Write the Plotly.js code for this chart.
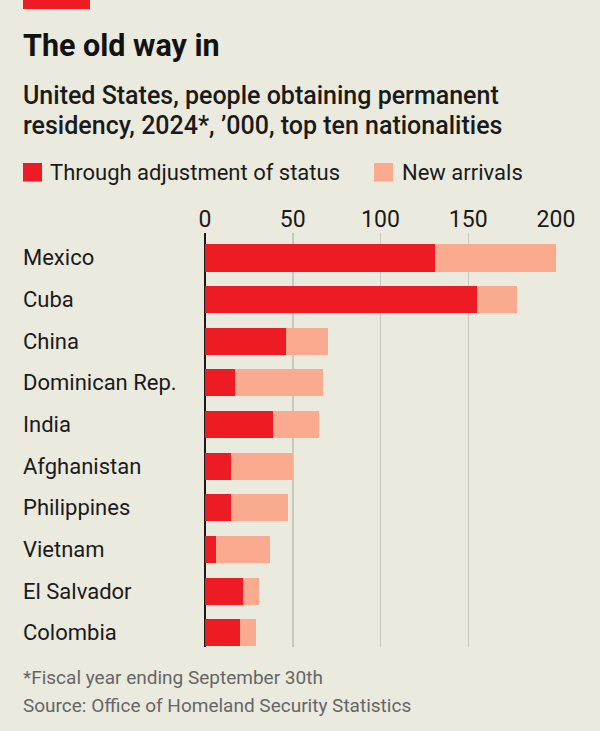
<!DOCTYPE html>
<html>
<head>
<meta charset="utf-8">
<script src="https://cdn.plot.ly/plotly-3.0.1.min.js"></script>
<style>
  html, body { margin: 0; padding: 0; background: #EBEADF; }
  #chart { width: 600px; height: 731px; }
</style>
</head>
<body>
<div id="chart"></div>
<script>
// Top ten nationalities obtaining permanent residency, 2024 ('000)
const countries = ["Mexico", "Cuba", "China", "Dominican Rep.", "India",
                   "Afghanistan", "Philippines", "Vietnam", "El Salvador", "Colombia"];
const adjustmentOfStatus = [131, 155, 46, 17, 39, 15, 15, 6, 21.5, 20];
const newArrivals        = [69, 23, 24, 50.5, 26, 35, 32.5, 31, 9, 9];
const xTicks = [0, 50, 100, 150, 200];

const W = 600, H = 731;
const M = { l: 205, r: 44, t: 233, b: 84 };
const plotW = W - M.l - M.r, plotH = H - M.t - M.b;
// pixel -> paper coordinate helpers for the header/footer furniture
const px = x => (x - M.l) / plotW;
const py = y => (H - M.b - y) / plotH;

const RED = "#ED1C24", PINK = "#F9AA8F", BG = "#EBEADF";
const FONT = "Roboto, 'Noto Sans', sans-serif";

const traces = [
  { type: "bar", orientation: "h", name: "Through adjustment of status",
    y: countries, x: adjustmentOfStatus, marker: { color: RED },
    hoverinfo: "skip" },
  { type: "bar", orientation: "h", name: "New arrivals",
    y: countries, x: newArrivals, marker: { color: PINK },
    hoverinfo: "skip" }
];

const annotations = [];
const txt = (text, x, y, size, color, extra) => Object.assign({
  text, xref: "paper", yref: "paper", x: px(x), y: py(y),
  xanchor: "left", yanchor: "middle", showarrow: false,
  font: { family: FONT, size, color }
}, extra || {});

annotations.push(txt("<b>The old way in</b>", 21, 45, 30.5, "#121212"));
annotations.push(txt("United States, people obtaining permanent", 21, 95, 25, "#1a1a1a",
  { font: { family: FONT, size: 25, color: "#1a1a1a", weight: 500 } }));
annotations.push(txt("residency, 2024*, ’000, top ten nationalities", 21, 126, 25, "#1a1a1a",
  { font: { family: FONT, size: 25, color: "#1a1a1a", weight: 500 } }));
annotations.push(txt("Through adjustment of status", 48, 172, 22, "#1a1a1a"));
annotations.push(txt("New arrivals", 400, 172, 22, "#1a1a1a"));
annotations.push(txt("*Fiscal year ending September 30th", 21, 677, 19, "#666666"));
annotations.push(txt("Source: Office of Homeland Security Statistics", 21, 705, 19, "#666666"));

// category names, left-aligned against the page margin
countries.forEach(c => annotations.push({
  text: c, xref: "paper", yref: "y", x: px(21), y: c,
  xanchor: "left", yanchor: "middle", showarrow: false,
  font: { family: FONT, size: 22, color: "#1a1a1a" }
}));

const shapes = [
  // red tag at the top
  { type: "rect", xref: "paper", yref: "paper", x0: px(23), x1: px(90), y0: py(0), y1: py(9),
    fillcolor: RED, line: { width: 0 } },
  // legend keys
  { type: "rect", xref: "paper", yref: "paper", x0: px(23), x1: px(42), y0: py(163), y1: py(181.5),
    fillcolor: RED, line: { width: 0 } },
  { type: "rect", xref: "paper", yref: "paper", x0: px(374), x1: px(393), y0: py(163), y1: py(181.5),
    fillcolor: PINK, line: { width: 0 } }
];

const layout = {
  width: W, height: H,
  margin: M,
  paper_bgcolor: BG, plot_bgcolor: BG,
  barmode: "stack", bargap: 0.35,
  showlegend: false,
  font: { family: FONT, color: "#1a1a1a" },
  xaxis: {
    side: "top", range: [0, 200], tickvals: xTicks, ticktext: xTicks.map(String),
    showgrid: true, gridcolor: "#C9C8BE", gridwidth: 1.5,
    zeroline: true, zerolinecolor: "#1a1a1a", zerolinewidth: 2,
    ticks: "", tickfont: { family: FONT, size: 23, color: "#1a1a1a" },
    fixedrange: true, showline: false
  },
  yaxis: {
    type: "category", categoryarray: countries, categoryorder: "array",
    range: [9.34, -0.6], showticklabels: false, showgrid: false,
    zeroline: false, ticks: "", fixedrange: true
  },
  annotations, shapes
};

Plotly.newPlot("chart", traces, layout, { displayModeBar: false, staticPlot: true });
</script>
</body>
</html>
